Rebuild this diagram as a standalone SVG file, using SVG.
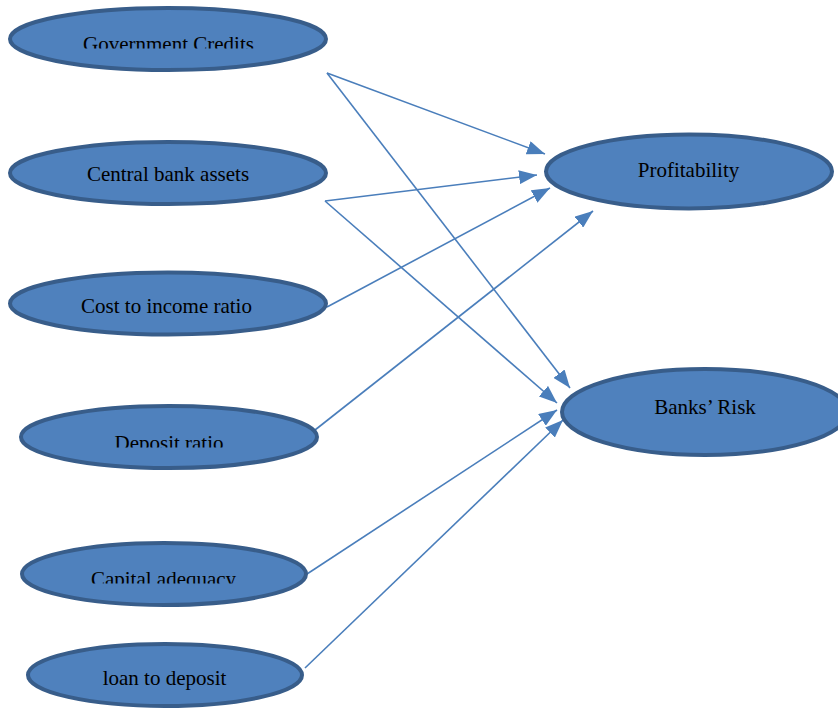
<svg xmlns="http://www.w3.org/2000/svg" width="838" height="708" viewBox="0 0 838 708">
<style>
.node ellipse{fill:#4F81BD;stroke:#385D8A;stroke-width:4}
.node text{font-family:"Liberation Serif","Times New Roman",serif;font-size:21px;fill:#000;text-anchor:middle}
.conn line{stroke:#4A7EBB;stroke-width:1.6;fill:none;marker-end:url(#arr)}
</style>
<defs>
<marker id="arr" markerUnits="userSpaceOnUse" markerWidth="18" markerHeight="14" viewBox="0 0 18 14" refX="18" refY="7" orient="auto">
<path d="M0,0 L18,7 L0,14 Z" fill="#4A7EBB"/>
</marker>
<clipPath id="c1"><rect x="0" y="0" width="340" height="48.5"/></clipPath>
<clipPath id="c4"><rect x="0" y="400" width="340" height="47.5"/></clipPath>
<clipPath id="c5"><rect x="0" y="540" width="340" height="43.5"/></clipPath>
</defs>
<rect width="838" height="708" fill="#fff"/>
<g id="connectors" class="conn">
<line x1="327" y1="73" x2="545" y2="154"/>
<line x1="327" y1="73" x2="570" y2="388"/>
<line x1="325" y1="201" x2="537" y2="175"/>
<line x1="325" y1="201" x2="557" y2="403"/>
<line x1="327" y1="307" x2="550" y2="188"/>
<line x1="315" y1="430" x2="593" y2="211"/>
<line x1="307" y1="574" x2="557" y2="410"/>
<line x1="305" y1="668" x2="563" y2="420"/>
</g>
<g id="gov" class="node"><ellipse cx="168" cy="39" rx="158" ry="31"/><text x="168.5" y="51" clip-path="url(#c1)">Government Credits</text></g>
<g id="cba" class="node"><ellipse cx="168" cy="173" rx="158" ry="31"/><text x="168" y="181">Central bank assets</text></g>
<g id="cir" class="node"><ellipse cx="168" cy="303.5" rx="158" ry="31"/><text x="166.5" y="313">Cost to income ratio</text></g>
<g id="dep" class="node"><ellipse cx="169" cy="437" rx="148" ry="31"/><text x="169" y="450" clip-path="url(#c4)">Deposit ratio</text></g>
<g id="cap" class="node"><ellipse cx="164" cy="574" rx="142" ry="31"/><text x="163.5" y="586" clip-path="url(#c5)">Capital adequacy</text></g>
<g id="ltd" class="node"><ellipse cx="165" cy="675" rx="137" ry="31"/><text x="164.5" y="685">loan to deposit</text></g>
<g id="prof" class="node"><ellipse cx="689" cy="171.5" rx="143" ry="37"/><text x="688.5" y="177">Profitability</text></g>
<g id="risk" class="node"><ellipse cx="705" cy="412" rx="143" ry="43"/><text x="705" y="414">Banks’ Risk</text></g>
</svg>
